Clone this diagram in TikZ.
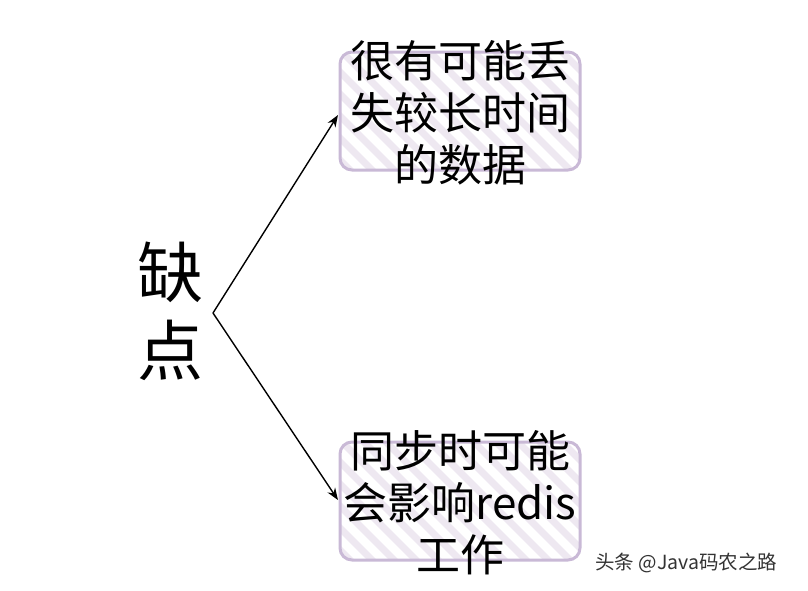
\documentclass[tikz,border=0pt]{standalone}
\usepackage{fontspec}
\setmainfont{Noto Sans CJK SC}
\usetikzlibrary{arrows.meta}
\definecolor{boxline}{HTML}{C9B9D6}
\definecolor{hatch}{HTML}{EEE8F1}
\definecolor{wm}{HTML}{333333}
\tikzset{
  boxtxt/.style={align=center, font=\fontsize{44}{52}\selectfont, inner sep=0pt},
  conn/.style={line width=1.4pt, -{Stealth[length=12pt,width=9pt]}},
}
\begin{document}
\begin{tikzpicture}[x=1pt,y=-1pt]
\fill[white] (0,0) rectangle (808,590);
\useasboundingbox (0,0) rectangle (808,590);
% boxes with hatching
\foreach \yt in {52,442}{
  \begin{scope}
    \clip[rounded corners=12pt] (340,\yt) rectangle (580,\yt+118);
    \foreach \xx in {200,222,...,600}{
      \draw[hatch, line width=7pt] (\xx,\yt-10) -- (\xx+138,\yt+128);
    }
  \end{scope}
  \draw[boxline, line width=3pt, rounded corners=12pt] (340,\yt) rectangle (580,\yt+118);
}
\coordinate (b1) at (338,115);
\coordinate (b2) at (338,500);
\node[boxtxt] (t1) at (460,113) {很有可能丢\\失较长时间\\的数据};
\node[boxtxt] (t2) at (460,503) {同步时可能\\会影响redis\\工作};
\node[font=\fontsize{66}{78}\selectfont, align=center, inner sep=0pt] (k) at (170,311) {缺\\点};
\coordinate (o) at (213,313);
\draw[conn] (o) -- (b1);
\draw[conn] (o) -- (b2);
\node[font=\fontsize{19.5}{22}\selectfont, text=wm, inner sep=0pt, anchor=west] (w) at (595,563) {头条 @Java码农之路};
\end{tikzpicture}
\end{document}
